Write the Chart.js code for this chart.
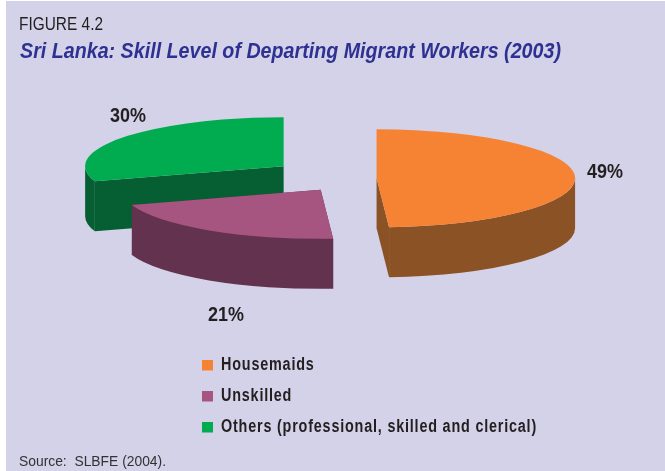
<!DOCTYPE html>
<html>
<head>
<meta charset="utf-8">
<title>Skill Level of Departing Migrant Workers</title>
<script src="https://cdn.jsdelivr.net/npm/chart.js@4/dist/chart.umd.min.js"></script>
<style>
  html, body { margin: 0; padding: 0; background: #fff; }
  canvas { display: block; }
</style>
</head>
<body>
<canvas id="skillChart" width="665" height="471"></canvas>
<script>
const categories = ['Housemaids', 'Unskilled', 'Others (professional, skilled and clerical)'];
const shares = [49, 21, 30];
const explode = [25, 55, 84];
const topColors = ['#f68333', '#a65580', '#00ac4f'];
const wallColors = ['#8b5226', '#63324e', '#065e33'];

const SANS = '"Liberation Sans", Arial, sans-serif';
const INK = '#231f20';

// no condensed face here, so squeeze the text sideways to the wanted width
function squeezed(c, text, x, y, width) {
  const w = c.measureText(text).width;
  c.save();
  c.translate(x, y);
  c.scale(width / w, 1);
  c.fillText(text, 0, 0);
  c.restore();
}

// flat pie tipped back into an oval, with a thick side wall on every slice
const tiltedPie = {
  id: 'tiltedPie',
  beforeDraw(chart) {
    const c = chart.ctx;
    c.save();
    c.fillStyle = '#d3d2e8';
    c.fillRect(6, 1, 659, 470);
    c.restore();
  },
  beforeDatasetsDraw(chart) {
    const c = chart.ctx;
    const arcs = chart.getDatasetMeta(0).data;
    const rx = 198.5, ry = 49, depth = 50;
    const cx = 351.6, cy = 178.5;

    // back slice first so the plum wall sits over the green one
    [2, 0, 1].forEach(i => {
      const arc = arcs[i];
      const a0 = arc.startAngle, a1 = arc.endAngle;
      const mid = (a0 + a1) / 2;
      const x = cx + Math.cos(mid) * arc.options.offset;
      const y = cy + Math.sin(mid) * arc.options.offset * 0.25;

      c.fillStyle = wallColors[i];
      // curved outer wall, only the front half of the oval shows
      const lo = Math.max(a0, 0), hi = Math.min(a1, Math.PI);
      if (lo < hi) {
        c.beginPath();
        c.ellipse(x, y, rx, ry, 0, lo, hi);
        c.ellipse(x, y + depth, rx, ry, 0, hi, lo, true);
        c.closePath();
        c.fill();
      }
      // the two cut faces
      [a0, a1].forEach(a => {
        const ex = x + Math.cos(a) * rx, ey = y + Math.sin(a) * ry;
        c.beginPath();
        c.moveTo(x, y);
        c.lineTo(ex, ey);
        c.lineTo(ex, ey + depth);
        c.lineTo(x, y + depth);
        c.closePath();
        c.fill();
      });

      c.fillStyle = topColors[i];
      c.beginPath();
      c.moveTo(x, y);
      c.ellipse(x, y, rx, ry, 0, a0, a1);
      c.closePath();
      c.fill();
    });
    return false;
  },
  afterDraw(chart) {
    const c = chart.ctx;
    c.save();
    c.textAlign = 'left';
    c.textBaseline = 'alphabetic';

    // heading
    c.fillStyle = INK;
    c.font = '18px ' + SANS;
    squeezed(c, 'FIGURE 4.2', 19, 30, 84);
    c.fillStyle = '#2e3192';
    c.font = 'italic bold 21.5px ' + SANS;
    squeezed(c, 'Sri Lanka: Skill Level of Departing Migrant Workers (2003)', 20, 58, 541);

    // percentage labels
    c.fillStyle = INK;
    c.font = 'bold 20px ' + SANS;
    const spots = [[587, 178], [208, 321], [110, 122]];
    shares.forEach((v, i) => squeezed(c, v + '%', spots[i][0], spots[i][1], 36));

    // legend
    c.font = 'bold 18px ' + SANS;
    c.letterSpacing = '1px';
    const squeeze = 316 / c.measureText(categories[2]).width;
    categories.forEach((name, i) => {
      const y = 370 + i * 31;
      c.fillStyle = topColors[i];
      c.fillRect(202, y - 10, 11, 10.5);
      c.fillStyle = INK;
      squeezed(c, name, 221, y, c.measureText(name).width * squeeze);
    });
    c.letterSpacing = '0px';

    c.fillStyle = '#333132';
    c.font = '15.5px ' + SANS;
    squeezed(c, 'Source:  SLBFE (2004).', 19, 466, 147);
    c.restore();
  }
};

new Chart(document.getElementById('skillChart'), {
  type: 'pie',
  data: {
    labels: categories,
    datasets: [{
      data: shares,
      backgroundColor: topColors,
      offset: explode,
      borderWidth: 0
    }]
  },
  options: {
    responsive: false,
    animation: false,
    events: [],
    plugins: {
      legend: { display: false },
      tooltip: { enabled: false }
    }
  },
  plugins: [tiltedPie]
});
</script>
</body>
</html>
